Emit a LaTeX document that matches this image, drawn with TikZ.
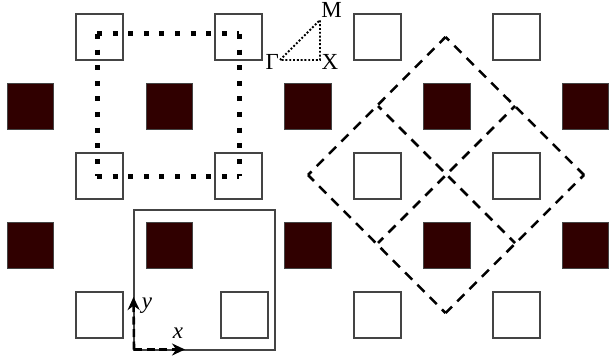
\documentclass[tikz,border=0pt]{standalone}
\usepackage{fontspec}
\setmainfont{Liberation Serif}
\usetikzlibrary{arrows.meta}
\definecolor{darkfill}{HTML}{300000}
\definecolor{edgegray}{HTML}{444444}
\tikzset{
  cell/.style={minimum width=46.5pt,minimum height=46.5pt,inner sep=0pt},
  whitecell/.style={cell,line width=1.6pt,draw=edgegray,fill=white},
  darkcell/.style={cell,line width=1pt,draw=edgegray,fill=darkfill},
  zone/.style={draw=black,line width=2.5pt,dash pattern=on 10pt off 7.4pt,dash phase=5pt},
  bigzone/.style={draw=black,line width=5pt,dash pattern=on 5pt off 10.6pt},
  wedge/.style={draw=black,line width=1.9pt,dash pattern=on 1.9pt off 1.9pt},
  axis/.style={draw=black,line width=2.6pt,dash pattern=on 8pt off 4.5pt},
  lab/.style={inner sep=0pt,font=\fontsize{23}{23}\selectfont}
}
\begin{document}
\begin{tikzpicture}[x=1pt,y=-1pt]
\useasboundingbox (0,0) rectangle (609,358);
% white cells
\node[whitecell] (w11) at (99.5,37) {};
\node[whitecell] (w12) at (238.5,37) {};
\node[whitecell] (w13) at (377.5,37) {};
\node[whitecell] (w14) at (516.5,37) {};
\node[whitecell] (w21) at (99.5,176) {};
\node[whitecell] (w22) at (238.5,176) {};
\node[whitecell] (w23) at (377.5,176) {};
\node[whitecell] (w24) at (516.5,176) {};
\node[whitecell] (w31) at (99.5,315) {};
\node[whitecell] (w32) at (244.5,315) {};
\node[whitecell] (w33) at (377.5,315) {};
\node[whitecell] (w34) at (516.5,315) {};
% dark cells
\node[darkcell] (d11) at (30.5,106.5) {};
\node[darkcell] (d12) at (169.5,106.5) {};
\node[darkcell] (d13) at (308,106.5) {};
\node[darkcell] (d14) at (447,106.5) {};
\node[darkcell] (d15) at (585.5,106.5) {};
\node[darkcell] (d21) at (30.5,245.5) {};
\node[darkcell] (d22) at (169.5,245.5) {};
\node[darkcell] (d23) at (308,245.5) {};
\node[darkcell] (d24) at (447,245.5) {};
\node[darkcell] (d25) at (585.5,245.5) {};
% unit cell
\coordinate (o) at (134,349.5);
\coordinate (boxtr) at (274.5,209.5);
\draw[draw=edgegray,line width=2pt] (o) rectangle (boxtr);
% dotted square
\coordinate (q1) at (97,34);
\coordinate (q2) at (239,34);
\coordinate (q3) at (239,176);
\coordinate (q4) at (97,176);
\draw[bigzone] (q1) -- (q2);
\draw[bigzone] (q2) -- (q3);
\draw[bigzone] (q4) -- (q3);
\draw[bigzone] (q1) -- (q4);
% large diamond
\coordinate (dt) at (445.5,37);
\coordinate (dr) at (584,175);
\coordinate (db) at (445.5,313);
\coordinate (dl) at (308,175);
\coordinate (e1) at (378,106);
\coordinate (e2) at (515,106);
\coordinate (e3) at (515,243);
\coordinate (e4) at (378,243);
\draw[zone] (dt) -- (dr);
\draw[zone] (dr) -- (db);
\draw[zone] (db) -- (dl);
\draw[zone] (dl) -- (dt);
\draw[zone] (e1) -- (e3);
\draw[zone] (e2) -- (e4);
% wedge
\node[lab,anchor=base east] (G) at (279,70) {Γ};
\node[lab,anchor=base] (M) at (331.5,18) {M};
\node[lab,anchor=base] (X) at (330,70) {X};
\coordinate (wg) at (280,60);
\coordinate (wm) at (320,20);
\coordinate (wx) at (320,60);
\draw[wedge] (wg) -- (wm) -- (wx) -- cycle;
% axes
\coordinate (ax) at (185,349.5);
\coordinate (ay) at (133.5,297);
\draw[axis,-{Stealth[length=13pt,width=12pt]}] (o) -- (ax);
\draw[axis,-{Stealth[length=13pt,width=12pt]}] (o) -- (ay);
\node[lab,anchor=base] (lx) at (178,338) {\itshape x};
\node[lab,anchor=base] (ly) at (147,308) {\itshape y};
\end{tikzpicture}
\end{document}
